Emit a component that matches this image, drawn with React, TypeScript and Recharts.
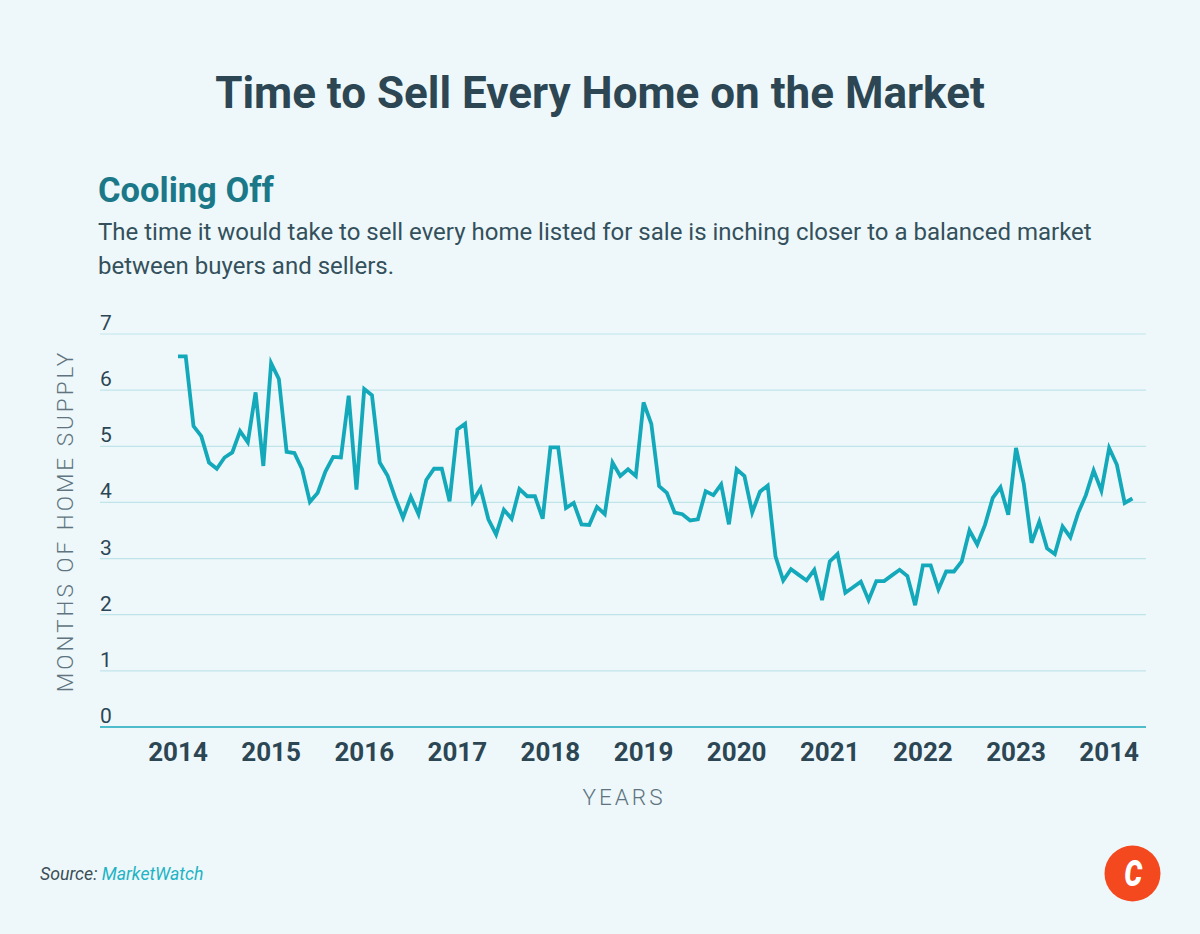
import React from "react";
import { LineChart, Line, XAxis, YAxis, CartesianGrid } from "recharts";

// monthly months-of-supply readings, Jan..Dec
const y2014 = [6.6, 6.6, 5.36, 5.18, 4.71, 4.6, 4.8, 4.89, 5.27, 5.07, 5.96, 4.65];
const y2015 = [6.48, 6.2, 4.9, 4.88, 4.59, 4.01, 4.17, 4.55, 4.81, 4.8, 5.9, 4.23];
const y2016 = [6.02, 5.91, 4.71, 4.48, 4.08, 3.73, 4.1, 3.79, 4.4, 4.6, 4.6, 4.02];
const y2017 = [5.3, 5.4, 4.02, 4.25, 3.7, 3.43, 3.87, 3.71, 4.24, 4.11, 4.11, 3.71];
const y2018 = [4.98, 4.98, 3.9, 3.99, 3.61, 3.6, 3.92, 3.79, 4.71, 4.47, 4.59, 4.47];
const y2019 = [5.78, 5.4, 4.29, 4.17, 3.82, 3.79, 3.68, 3.7, 4.2, 4.13, 4.32, 3.61];
const y2020 = [4.59, 4.47, 3.82, 4.19, 4.3, 3.04, 2.61, 2.81, 2.71, 2.61, 2.8, 2.26];
const y2021 = [2.95, 3.08, 2.39, 2.49, 2.59, 2.26, 2.6, 2.6, 2.7, 2.8, 2.69, 2.17];
const y2022 = [2.88, 2.88, 2.45, 2.77, 2.77, 2.95, 3.5, 3.25, 3.6, 4.08, 4.27, 3.78];
const y2023 = [4.97, 4.33, 3.28, 3.66, 3.18, 3.08, 3.57, 3.38, 3.81, 4.13, 4.57, 4.21];
const y2024 = [4.97, 4.67, 3.99, 4.07];

// the source labels the last year "2014"
const yearLabels = ["2014", "2015", "2016", "2017", "2018", "2019", "2020", "2021", "2022", "2023", "2014"];
const yTicks = [0, 1, 2, 3, 4, 5, 6, 7];

const allMonths = [
  ...y2014, ...y2015, ...y2016, ...y2017, ...y2018, ...y2019,
  ...y2020, ...y2021, ...y2022, ...y2023, ...y2024,
];
const data = allMonths.map((value, idx) => ({ idx, value }));
const xTicks = yearLabels.map((_, i) => i * 12);

const FONT = "Roboto, 'Noto Sans', sans-serif";
const DARK = "#2c4654";
const PLOT_LEFT = 100;

const YTick = (props: any) => (
  <text x={PLOT_LEFT} y={props.y - 4} fontSize={21} fill={DARK} fontFamily={FONT} textAnchor="start">
    {props.payload.value}
  </text>
);

const XTick = (props: any) => (
  <text x={props.x} y={props.y + 26} fontSize={26} fontWeight={700} fill={DARK} fontFamily={FONT} textAnchor="middle">
    {yearLabels[props.payload.value / 12]}
  </text>
);

export default function App() {
  return (
    <div
      style={{
        position: "absolute",
        left: 0,
        top: 0,
        width: 1200,
        height: 934,
        background: "#eef8fa",
        fontFamily: FONT,
        overflow: "hidden",
      }}
    >
      <div style={{ position: "absolute", top: 67, width: 1200, textAlign: "center", fontSize: 44, fontWeight: 700, color: DARK }}>
        Time to Sell Every Home on the Market
      </div>
      <div style={{ position: "absolute", top: 170, left: 98, fontSize: 34.5, fontWeight: 700, color: "#1b7888" }}>
        Cooling Off
      </div>
      <div style={{ position: "absolute", top: 215, left: 98, width: 1020, fontSize: 24, lineHeight: "34px", color: "#34505c" }}>
        The time it would take to sell every home listed for sale is inching closer to a balanced market between buyers and sellers.
      </div>

      <div style={{ position: "absolute", left: 0, top: 0 }}>
        <LineChart width={1200} height={934} data={data} margin={{ top: 334, right: 54, bottom: 157, left: 0 }}>
          <CartesianGrid vertical={false} stroke="#bfe4ea" strokeWidth={1.2} />
          <XAxis
            dataKey="idx"
            type="number"
            domain={[-10.05, 124.75]}
            ticks={xTicks}
            allowDataOverflow
            height={50}
            tickLine={false}
            axisLine={{ stroke: "#4fbccb", strokeWidth: 2 }}
            tick={<XTick />}
            interval={0}
          />
          <YAxis
            domain={[0, 7]}
            ticks={yTicks}
            width={PLOT_LEFT}
            tickLine={false}
            axisLine={false}
            tick={<YTick />}
            interval={0}
          />
          <Line
            type="linear"
            dataKey="value"
            stroke="#14a9ba"
            strokeWidth={3.8}
            dot={false}
            strokeLinejoin="miter"
            isAnimationActive={false}
          />
        </LineChart>
      </div>

      <div
        style={{
          position: "absolute",
          left: 65,
          top: 521,
          transform: "translate(-50%, -50%) rotate(-90deg)",
          whiteSpace: "nowrap",
          fontSize: 22.5,
          fontWeight: 300,
          letterSpacing: 3,
          color: "#5f7480",
        }}
      >
        MONTHS OF HOME SUPPLY
      </div>
      <div
        style={{
          position: "absolute",
          left: 624,
          top: 797,
          transform: "translate(-50%, -50%)",
          fontSize: 22.5,
          fontWeight: 300,
          letterSpacing: 3,
          color: "#5f7480",
        }}
      >
        YEARS
      </div>

      <div style={{ position: "absolute", left: 40, top: 864, fontSize: 17.7, fontStyle: "italic", color: "#3c4d57" }}>
        Source: <span style={{ color: "#1fb3c5" }}>MarketWatch</span>
      </div>

      <svg style={{ position: "absolute", left: 1104, top: 845 }} width={57} height={57}>
        <circle cx={28.5} cy={28.5} r={28} fill="#f4491f" />
        <text
          x={28.5}
          y={41}
          textAnchor="middle"
          fontSize={36}
          fontWeight={900}
          fontStyle="italic"
          fill="#ffffff"
          fontFamily={FONT}
          transform="translate(7 0) scale(0.78 1)"
        >
          C
        </text>
      </svg>
    </div>
  );
}
